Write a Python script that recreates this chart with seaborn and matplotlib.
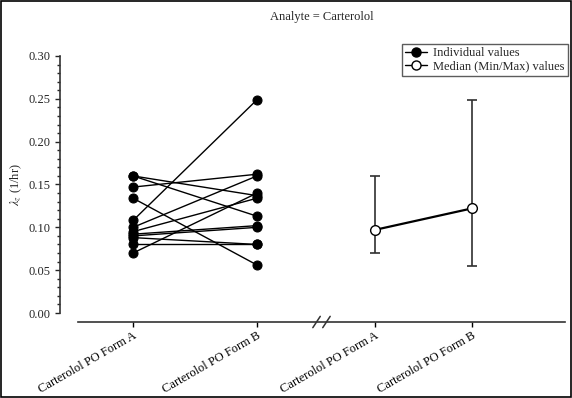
import matplotlib

matplotlib.use("Agg")
import matplotlib.pyplot as plt
import numpy as np
import pandas as pd
import seaborn as sns
from matplotlib.lines import Line2D
from matplotlib.patches import Rectangle
from matplotlib.ticker import AutoMinorLocator, FormatStrFormatter, MultipleLocator

# ──── DATA ───────────────────────────────────────────────────────────────────

forms = ["Carterolol PO Form A", "Carterolol PO Form B"]
subjects = list(range(1, 13))
form_a_values = [0.160, 0.160, 0.147, 0.134, 0.108, 0.100, 0.095, 0.092, 0.090, 0.088, 0.081, 0.070]
form_b_values = [0.137, 0.113, 0.162, 0.056, 0.249, 0.160, 0.134, 0.102, 0.100, 0.080, 0.081, 0.140]
median_values = [0.097, 0.122]
min_values = [0.070, 0.055]
max_values = [0.160, 0.249]

# x positions on the shared axis (individual block, then median block)
indiv_pos = [1.0, 2.0]
median_pos = [2.95, 3.73]
break_pos = 2.52

df = pd.DataFrame(
    {
        "subject": subjects * 2,
        "form": [forms[0]] * len(subjects) + [forms[1]] * len(subjects),
        "value": form_a_values + form_b_values,
    }
)
df["x"] = df["form"].map(dict(zip(forms, indiv_pos)))

med = pd.DataFrame({"form": forms, "x": median_pos, "median": median_values, "min": min_values, "max": max_values})

# ──── PLOT ───────────────────────────────────────────────────────────────────

sns.set_theme(style="ticks")
plt.rcParams["font.family"] = ["Liberation Serif", "DejaVu Serif"]
plt.rcParams["mathtext.fontset"] = "stix"

px = 0.72  # points per pixel at dpi 100
fig = plt.figure(figsize=(5.72, 3.98), dpi=100)
ax = fig.add_axes([78 / 572, 1 - 313 / 398, (565 - 78) / 572, (313 - 56) / 398])

# individual profiles
sns.lineplot(
    data=df,
    x="x",
    y="value",
    units="subject",
    estimator=None,
    color="black",
    linewidth=1.0,
    marker="o",
    markersize=6.5,
    markeredgecolor="black",
    ax=ax,
)

# median with min/max range
ax.errorbar(
    med["x"],
    med["median"],
    yerr=[med["median"] - med["min"], med["max"] - med["median"]],
    fmt="none",
    ecolor="#303030",
    elinewidth=1.2,
    capsize=3.5,
    capthick=1.2,
    zorder=2,
)
sns.lineplot(
    data=med,
    x="x",
    y="median",
    color="black",
    linewidth=1.6,
    marker="o",
    markersize=7,
    markerfacecolor="white",
    markeredgecolor="black",
    markeredgewidth=1.0,
    ax=ax,
    zorder=3,
)

ax.set_xlim(0.556, 4.484)
ax.set_ylim(0, 0.30)
ax.yaxis.set_major_locator(MultipleLocator(0.05))
ax.yaxis.set_minor_locator(AutoMinorLocator(5))
ax.yaxis.set_major_formatter(FormatStrFormatter("%.2f"))

ax.tick_params(axis="x", length=5 * px, width=1, pad=2, colors="black")
ax.tick_params(axis="y", which="major", length=5 * px, width=1, labelsize=9, pad=3)
ax.tick_params(axis="y", which="minor", length=3 * px, width=1, left=True)

sns.despine(ax=ax)
ax.spines["left"].set_position(("outward", 18 * px))
ax.spines["bottom"].set_position(("outward", 9 * px))
for side in ["left", "bottom"]:
    ax.spines[side].set_color("#333333")
    ax.spines[side].set_linewidth(1.2)

ax.set_xlabel("")
ax.set_ylabel(r"$\lambda_z$ (1/hr)", fontsize=9)
ax.yaxis.set_label_coords(-0.11, 0.5)

# axis break marks "//"
trans = ax.get_xaxis_transform()
spine_y = -9 / 257
for dx in [-0.04, 0.04]:
    ax.plot(
        [break_pos + dx - 0.03, break_pos + dx + 0.03],
        [spine_y - 0.022, spine_y + 0.022],
        transform=trans,
        color="#333333",
        linewidth=1.1,
        clip_on=False,
    )

fig.suptitle("Analyte = Carterolol", x=322 / 572, y=1 - 11 / 398, fontsize=9, va="top")

handles = [
    Line2D([], [], color="black", marker="o", markersize=6.5, linewidth=1.0),
    Line2D([], [], color="black", marker="o", markersize=6.5, markerfacecolor="white", linewidth=1.0),
]
leg = fig.legend(
    handles,
    ["Individual values", "Median (Min/Max) values"],
    loc="upper right",
    bbox_to_anchor=(568 / 572, 1 - 44 / 398),
    bbox_transform=fig.transFigure,
    fontsize=9,
    frameon=True,
    fancybox=False,
    borderaxespad=0,
    handlelength=1.8,
    handletextpad=0.5,
    borderpad=0.25,
    labelspacing=0.1,
)
leg.get_frame().set_edgecolor("#333333")
leg.get_frame().set_linewidth(1.0)

# outer frame around the image
fig.patches.append(
    Rectangle((1 / 572, 1 / 398), 570 / 572, 396 / 398, transform=fig.transFigure, fill=False, edgecolor="black", linewidth=1.2)
)

# rotated category labels, anchored at their right end under each tick
ax.set_xticks(indiv_pos + median_pos)
ax.set_xticklabels(forms + forms, fontsize=9)
for lbl in ax.get_xticklabels():
    lbl.set_rotation(30)
    lbl.set_horizontalalignment("right")
    lbl.set_verticalalignment("top")
    lbl.set_rotation_mode("anchor")

fig.savefig("out.png", dpi=100)
